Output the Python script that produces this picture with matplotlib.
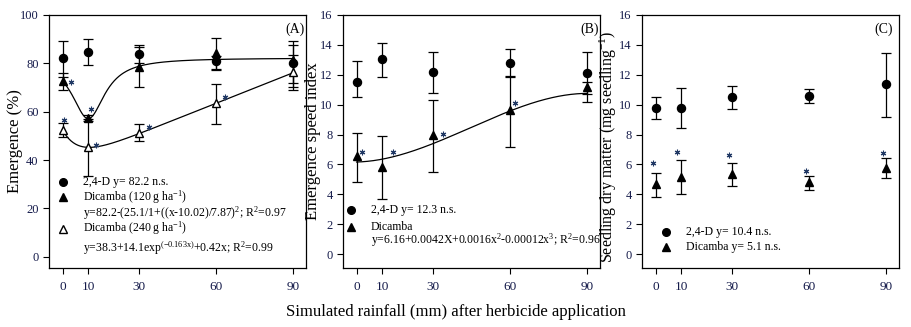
import matplotlib
matplotlib.use("Agg")
import matplotlib.pyplot as plt
import numpy as np

plt.rcParams['font.family'] = ['Liberation Serif', 'DejaVu Serif']
plt.rcParams['mathtext.fontset'] = 'custom'
plt.rcParams['mathtext.rm'] = 'Liberation Serif'
plt.rcParams['mathtext.it'] = 'Liberation Serif:italic'

# simulated rainfall (mm)
rain = [0, 10, 30, 60, 90]
xticks = [0, 10, 30, 60, 90]

# (A) emergence (%)
a_24d = [82.2, 84.5, 83.7, 81.0, 80.1]
a_24d_lo = [74.5, 79.3, 80.0, 77.1, 70.4]
a_24d_hi = [89.4, 89.9, 87.6, 83.0, 89.3]
a_d120 = [72.8, 57.2, 78.6, 84.2, 81.5]
a_d120_lo = [69.0, 56.0, 70.1, 77.5, 69.0]
a_d120_hi = [76.1, 58.5, 86.9, 90.4, 87.6]
a_d240 = [52.4, 45.5, 51.4, 63.5, 76.5]
a_d240_lo = [49.4, 33.4, 47.9, 55.0, 72.0]
a_d240_hi = [55.4, 57.0, 54.8, 71.4, 83.5]
a_star_x = [3.1, 10.9, 0.5, 13.2, 33.9, 63.6]
a_star_y = [72.4, 61.0, 56.6, 46.2, 53.5, 66.2]

# (B) emergence speed index
b_24d = [11.54, 13.03, 12.16, 12.8, 12.14]
b_24d_lo = [10.49, 11.83, 10.76, 11.9, 10.7]
b_24d_hi = [12.94, 14.14, 13.54, 13.7, 13.5]
b_dic = [6.53, 5.86, 7.97, 9.64, 11.16]
b_dic_lo = [4.79, 3.7, 5.46, 7.19, 10.16]
b_dic_hi = [8.13, 7.9, 10.3, 11.83, 11.5]
b_star_x = [2.2, 14.2, 33.8, 61.8]
b_star_y = [6.86, 6.86, 8.02, 10.13]

# (C) seedling dry matter (mg seedling-1)
c_24d = [9.8, 9.8, 10.49, 10.6, 11.36]
c_24d_lo = [9.04, 8.42, 9.71, 10.13, 9.2]
c_24d_hi = [10.49, 11.09, 11.25, 11.02, 13.43]
c_dic = [4.68, 5.19, 5.35, 4.81, 5.79]
c_dic_lo = [3.81, 4.0, 4.57, 4.3, 5.08]
c_dic_hi = [5.41, 6.3, 6.08, 5.23, 6.41]
c_star_x = [-1.0, 8.5, 28.7, 58.7, 88.7]
c_star_y = [6.08, 6.86, 6.64, 5.59, 6.79]

# fitted model coefficients, as printed on the chart
lor = (82.2, 25.1, 10.02, 7.87)
expl = (38.3, 14.1, -0.163, 0.42)
cubic = (6.16, 0.0042, 0.0016, -0.000012)

star_col = '#203864'
tick_col = '#141a4a'
fs_tick = 9
fs_leg = 8.5
fs_lab = 12


def errs(v, lo, hi):
    v = np.array(v)
    return [v - np.array(lo), np.array(hi) - v]


def style(ax, ymin, ymax, yt):
    ax.set_xlim(-5.3, 95)
    ax.set_ylim(ymin, ymax)
    ax.set_xticks(xticks)
    ax.set_yticks(yt)
    ax.tick_params(direction='out', length=4, labelsize=fs_tick, width=0.8,
                   labelcolor=tick_col)
    ax.tick_params(axis='x', labelsize=9.5, pad=5)
    for s in ax.spines.values():
        s.set_linewidth(0.9)


def ebar(ax, x, y, lo, hi, marker, mfc='black', ms=6):
    ax.errorbar(x, y, yerr=errs(y, lo, hi), fmt=marker, color='black', mfc=mfc,
                mec='black', ms=ms, capsize=3.6, elinewidth=0.9, capthick=0.9,
                zorder=3)


fig = plt.figure(figsize=(9.11, 3.27), dpi=100)
w, h, bot = 0.282, 0.774, 0.1804
axA = fig.add_axes([0.0538, bot, w, h])
axB = fig.add_axes([0.3765, bot, w, h])
axC = fig.add_axes([0.7047, bot, w, h])

xs = np.linspace(0, 90, 300)

# panel A
axA.plot(xs, lor[0] - lor[1] / (1 + ((xs - lor[2]) / lor[3]) ** 2), color='black', lw=0.9)
axA.plot(xs, expl[0] + expl[1] * np.exp(expl[2] * xs) + expl[3] * xs, color='black', lw=0.9)
ebar(axA, rain, a_24d, a_24d_lo, a_24d_hi, 'o', ms=5.8)
ebar(axA, rain, a_d120, a_d120_lo, a_d120_hi, '^')
ebar(axA, rain, a_d240, a_d240_lo, a_d240_hi, '^', mfc='white')
axA.plot(a_star_x, a_star_y, ls='none', marker=(6, 2, 0), ms=4, color=star_col, mew=0.8)
style(axA, -4.6, 100, [0, 20, 40, 60, 80, 100])
axA.set_ylabel('Emergence (%)', fontsize=fs_lab)
axA.yaxis.set_label_coords(-0.10, 0.5)
axA.text(0.995, 0.945, '(A)', transform=axA.transAxes, ha='right', va='center', fontsize=10)
axA.plot([0], [31], 'o', color='black', ms=5.5)
axA.plot([0], [24.6], '^', color='black', ms=5.5)
axA.plot([0], [11.7], '^', mfc='white', mec='black', ms=5.5)
axA.text(8, 31, '2,4-D y= 82.2 n.s.', fontsize=fs_leg, va='center')
axA.text(8, 24.6, r'Dicamba (120 g ha$^{\mathregular{-1}}$)', fontsize=fs_leg, va='center')
axA.text(8, 18.1, r'y=82.2-(25.1/1+((x-10.02)/7.87)$^{\mathregular{2}}$; R$^{\mathregular{2}}$=0.97',
         fontsize=fs_leg, va='center')
axA.text(8, 11.7, r'Dicamba (240 g ha$^{\mathregular{-1}}$)', fontsize=fs_leg, va='center')
axA.text(8, 3.6, r'y=38.3+14.1exp$^{\mathregular{(-0.163x)}}$+0.42x; R$^{\mathregular{2}}$=0.99',
         fontsize=fs_leg, va='center')

# panel B
axB.plot(xs, cubic[0] + cubic[1] * xs + cubic[2] * xs ** 2 + cubic[3] * xs ** 3, color='black', lw=0.9)
ebar(axB, rain, b_24d, b_24d_lo, b_24d_hi, 'o', ms=5.8)
ebar(axB, rain, b_dic, b_dic_lo, b_dic_hi, '^')
axB.plot(b_star_x, b_star_y, ls='none', marker=(6, 2, 0), ms=4, color=star_col, mew=0.8)
style(axB, -0.93, 16, [0, 2, 4, 6, 8, 10, 12, 14, 16])
axB.set_ylabel('Emergence speed index', fontsize=fs_lab)
axB.yaxis.set_label_coords(-0.085, 0.5)
axB.text(0.997, 0.945, '(B)', transform=axB.transAxes, ha='right', va='center', fontsize=10)
axB.plot([-2], [2.92], 'o', color='black', ms=5.5, clip_on=False)
axB.plot([-2], [1.8], '^', color='black', ms=5.5, clip_on=False)
axB.text(5.5, 2.92, '2,4-D y= 12.3 n.s.', fontsize=fs_leg, va='center')
axB.text(5.5, 1.8, 'Dicamba', fontsize=fs_leg, va='center')
axB.text(5.5, 0.91, r'y=6.16+0.0042X+0.0016x$^{\mathregular{2}}$-0.00012x$^{\mathregular{3}}$; R$^{\mathregular{2}}$=0.96',
         fontsize=fs_leg, va='center')

# panel C
ebar(axC, rain, c_24d, c_24d_lo, c_24d_hi, 'o', ms=5.8)
ebar(axC, rain, c_dic, c_dic_lo, c_dic_hi, '^')
axC.plot(c_star_x, c_star_y, ls='none', marker=(6, 2, 0), ms=4, color=star_col, mew=0.8)
style(axC, -0.93, 16, [0, 2, 4, 6, 8, 10, 12, 14, 16])
axC.set_ylabel(r'Seedling dry matter (mg seedling$^{\mathregular{-1}}$)', fontsize=11.5)
axC.yaxis.set_label_coords(-0.088, 0.48)
axC.text(0.975, 0.945, '(C)', transform=axC.transAxes, ha='right', va='center', fontsize=10)
axC.plot([4.2], [1.47], 'o', color='black', ms=5.5)
axC.plot([4.2], [0.47], '^', color='black', ms=5.5)
axC.text(12, 1.47, '2,4-D y= 10.4 n.s.', fontsize=fs_leg, va='center')
axC.text(12, 0.47, 'Dicamba y= 5.1 n.s.', fontsize=fs_leg, va='center')

fig.text(0.5, 0.046, 'Simulated rainfall (mm) after herbicide application', ha='center',
         va='center', fontsize=fs_lab)

fig.savefig('out.png', dpi=100)
